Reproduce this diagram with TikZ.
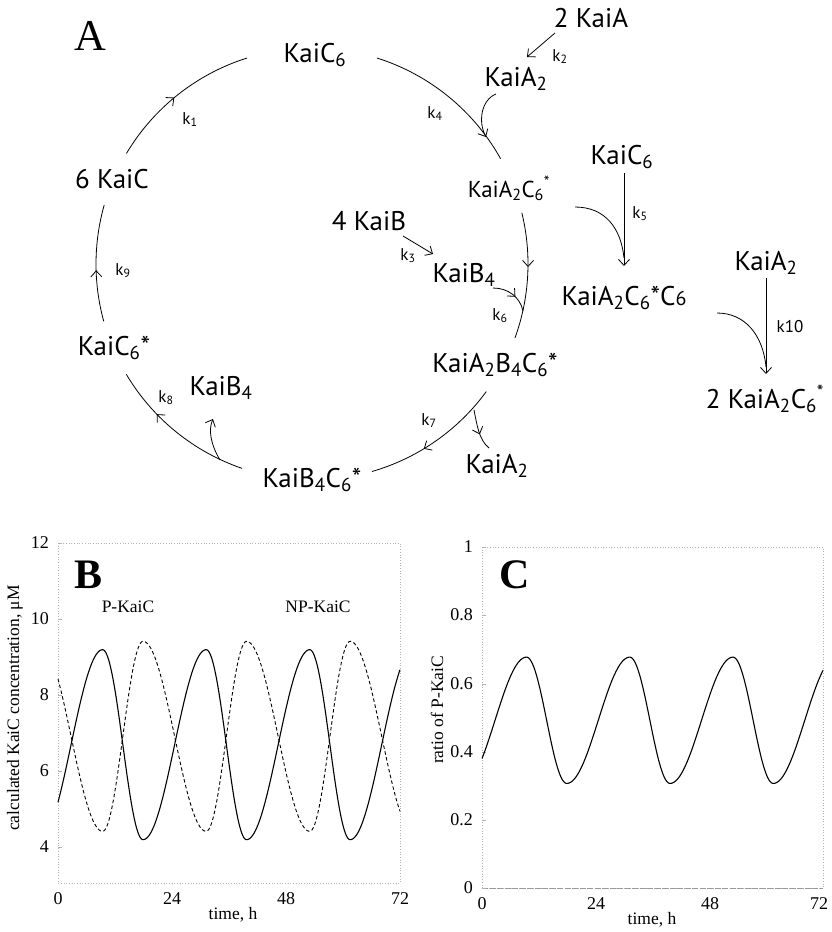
\documentclass[tikz,border=0pt]{standalone}
\usepackage{fontspec}
\setmainfont{Liberation Serif}
\newfontfamily\myr{PT Sans}
\newfontfamily\tms{Liberation Serif}
\usetikzlibrary{arrows.meta,decorations.markings}
\begin{document}
\begin{tikzpicture}[x=1pt,y=1pt,
  declare function={ph(\t)=mod(\t+200.1,21.8);
    pk(\t)=(ph(\t)<13.3)*(6.64-2.5*cos(180*ph(\t)/13.3))+(ph(\t)>=13.3)*(6.64+2.5*cos(180*(ph(\t)-13.3)/8.5));},
  >={Straight Barb[length=6pt,width=11pt]},
  ln/.style={line width=0.8pt},
  midarr/.style={postaction={decorate},decoration={markings,mark=at position #1 with {\arrow{>}}}},
  lblbig/.style={font=\myr\fontsize{27}{30}\selectfont,inner sep=0pt,anchor=base},
  lblmid/.style={font=\myr\fontsize{23}{26}\selectfont,inner sep=0pt,anchor=base},
  lblk/.style={font=\myr\fontsize{17}{20}\selectfont,inner sep=0pt,anchor=base},
  lbltk/.style={font=\tms\fontsize{18}{20}\selectfont,inner sep=0pt},
  lblax/.style={font=\tms\fontsize{17.5}{20}\selectfont,inner sep=0pt},
  pframe/.style={gray!60,dotted,line width=0.7pt},
  pcurve/.style={line width=1.1pt}]
\useasboundingbox (0,0) rectangle (832,-932);

% ---------- Panel A ----------
\node[font=\tms\fontsize{44}{44}\selectfont,anchor=base,inner sep=0pt] (pA) at (90,-50) {A};
\coordinate (O) at (312,-264);

\node[lblbig] (kc6) at (315,-62) {KaiC\textsubscript{6}};
\node[lblbig] (sixkc) at (112,-188) {6 KaiC};
\node[lblbig] (kc6s) at (114,-355) {KaiC\textsubscript{6}*};
\node[lblbig] (kb4c6) at (312,-487) {KaiB\textsubscript{4}C\textsubscript{6}*};
\node[lblbig] (kab) at (495,-372) {KaiA\textsubscript{2}B\textsubscript{4}C\textsubscript{6}*};
\node[lblmid] (kac) at (509,-197) {KaiA\textsubscript{2}C\textsubscript{6}\textsuperscript{*}};
\node[lblbig] (ka2t) at (516,-86) {KaiA\textsubscript{2}};
\node[lblbig] (twokaia) at (591,-27) {2 KaiA};
\node[lblbig] (fourkb) at (369,-230) {4 KaiB};
\node[lblbig] (kb4m) at (464,-282) {KaiB\textsubscript{4}};
\node[lblbig] (ka2l) at (497,-473) {KaiA\textsubscript{2}};
\node[lblbig] (kb4l) at (221,-395) {KaiB\textsubscript{4}};
\node[lblbig] (kc6r) at (622,-164) {KaiC\textsubscript{6}};
\node[lblbig] (kacc) at (624,-305) {KaiA\textsubscript{2}C\textsubscript{6}*C{\fontsize{20}{20}\selectfont 6}};
\node[lblbig] (ka2r) at (766,-270) {KaiA\textsubscript{2}};
\node[lblbig] (twokac) at (765,-408) {2 KaiA\textsubscript{2}C\textsubscript{6}\textsuperscript{*}};

\node[lblk] (k1) at (190,-124) {k\textsubscript{1}};
\node[lblk] (k2) at (560,-61) {k\textsubscript{2}};
\node[lblk] (k3) at (408,-260) {k\textsubscript{3}};
\node[lblk] (k4) at (435,-118) {k\textsubscript{4}};
\node[lblk] (k5) at (640,-218) {k\textsubscript{5}};
\node[lblk] (k6) at (500,-320) {k\textsubscript{6}};
\node[lblk] (k7) at (429,-425) {k\textsubscript{7}};
\node[lblk] (k8) at (166,-402) {k\textsubscript{8}};
\node[lblk] (k9) at (123,-275) {k\textsubscript{9}};
\node[lblk] (k10) at (790,-332) {k10};

% cycle arcs
\draw[ln,midarr=0.47] ([shift={(149.2:216)}]O) arc[start angle=149.2,end angle=107.5,radius=216];
\draw[ln] ([shift={(72.5:216)}]O) arc[start angle=72.5,end angle=29.2,radius=216];
\draw[ln,midarr=0.43] ([shift={(13.7:216)}]O) arc[start angle=13.7,end angle=-20,radius=216];
\draw[ln,midarr=0.6] ([shift={(-36.2:216)}]O) arc[start angle=-36.2,end angle=-73.9,radius=216];
\draw[ln,midarr=0.67] ([shift={(-108.9:216)}]O) arc[start angle=-108.9,end angle=-149.3,radius=216];
\draw[ln,midarr=0.44] ([shift={(195.4:216)}]O) arc[start angle=195.4,end angle=164.2,radius=216];

% side reactions
\coordinate (a1) at (496,-94);
\coordinate (a2) at (486,-137);
\draw[ln,->] (a1) .. controls (481,-100) and (478,-122) .. (a2);
\coordinate (b1) at (555,-33);
\coordinate (b2) at (527,-57);
\draw[ln,->] (b1) -- (b2);
\coordinate (c1) at (403,-236);
\coordinate (c2) at (433,-254);
\draw[ln,->] (c1) -- (c2);
\coordinate (d1) at (493,-288);
\coordinate (d2) at (523,-311);
\draw[ln,midarr=0.6] (d1) .. controls (508,-288) and (520,-297) .. (d2);
\coordinate (e1) at (474,-410);
\coordinate (e2) at (489,-448);
\draw[ln,midarr=0.6] (e1) .. controls (477,-425) and (479,-440) .. (e2);
\coordinate (f1) at (220,-460);
\coordinate (f2) at (213,-419);
\draw[ln,->] (f1) .. controls (211,-445) and (208,-430) .. (f2);
\coordinate (g1) at (624,-173);
\coordinate (g2) at (624,-266);
\draw[ln,->] (g1) -- (g2);
\coordinate (g3) at (575,-207);
\coordinate (g4) at (624,-258);
\draw[ln] (g3) .. controls (605,-207) and (621,-228) .. (g4);
\coordinate (h1) at (766,-278);
\coordinate (h2) at (766,-374);
\draw[ln,->] (h1) -- (h2);
\coordinate (h3) at (717,-313);
\coordinate (h4) at (766,-367);
\draw[ln] (h3) .. controls (745,-313) and (763,-335) .. (h4);

% ---------- Panel B ----------
\draw[pframe] (58,-543) rectangle (400,-883);
\foreach \v/\yy in {12/543,10/619,8/695,6/771,4/847}{
  \node[lbltk,anchor=east] at (49,-\yy) {\v};
  \draw[gray!60,line width=0.6pt] (58,-\yy) -- (62,-\yy);
}
\foreach \v/\xx in {0/58,24/172,48/286,72/400}{
  \node[lbltk,anchor=base] at (\xx,-904) {\v};
}
\node[lblax,anchor=base] (tb) at (233,-919) {time, h};
\node[lblax,rotate=90] (yb) at (15,-708) {calculated KaiC concentration, μM};
\node[font=\tms\bfseries\fontsize{42}{42}\selectfont,anchor=base,inner sep=0pt] (pB) at (89,-588) {B};
\node[lblax,anchor=base] (pk) at (128,-612) {P-KaiC};
\node[lblax,anchor=base] (npk) at (318,-612) {NP-KaiC};
\begin{scope}[shift={(58pt,-883pt)},x=4.75pt,y=38pt]
  \draw[pcurve] plot[domain=0:72,samples=400] (\x,{pk(\x)-3});
  \draw[pcurve,line width=0.9pt,dash pattern=on 3.5pt off 2.5pt] plot[domain=0:72,samples=400] (\x,{10.5-pk(\x)});
\end{scope}

% ---------- Panel C ----------
\draw[pframe] (482,-547) rectangle (823,-888);
\draw[gray!80,dash pattern=on 6pt off 1.5pt,line width=0.7pt] (482,-888) -- (823,-888);
\foreach \v/\yy in {1/547,0.8/615,0.6/684,0.4/752,0.2/820,0/888}{
  \node[lbltk,anchor=east] at (473,-\yy) {\v};
  \draw[gray!60,line width=0.6pt] (482,-\yy) -- (486,-\yy);
}
\foreach \v/\xx in {0/482,24/596,48/710,72/819}{
  \node[lbltk,anchor=base] at (\xx,-909) {\v};
}
\node[lblax,anchor=base] (tc) at (652,-924) {time, h};
\node[lblax,rotate=90] (yc) at (437,-710) {ratio of P-KaiC};
\node[font=\tms\bfseries\fontsize{42}{42}\selectfont,anchor=base,inner sep=0pt] (pC) at (515,-588) {C};
\begin{scope}[shift={(482pt,-888pt)},x=4.736pt,y=341pt]
  \draw[pcurve] plot[domain=0:72,samples=400] (\x,{pk(\x)/13.5});
\end{scope}
\end{tikzpicture}
\end{document}
